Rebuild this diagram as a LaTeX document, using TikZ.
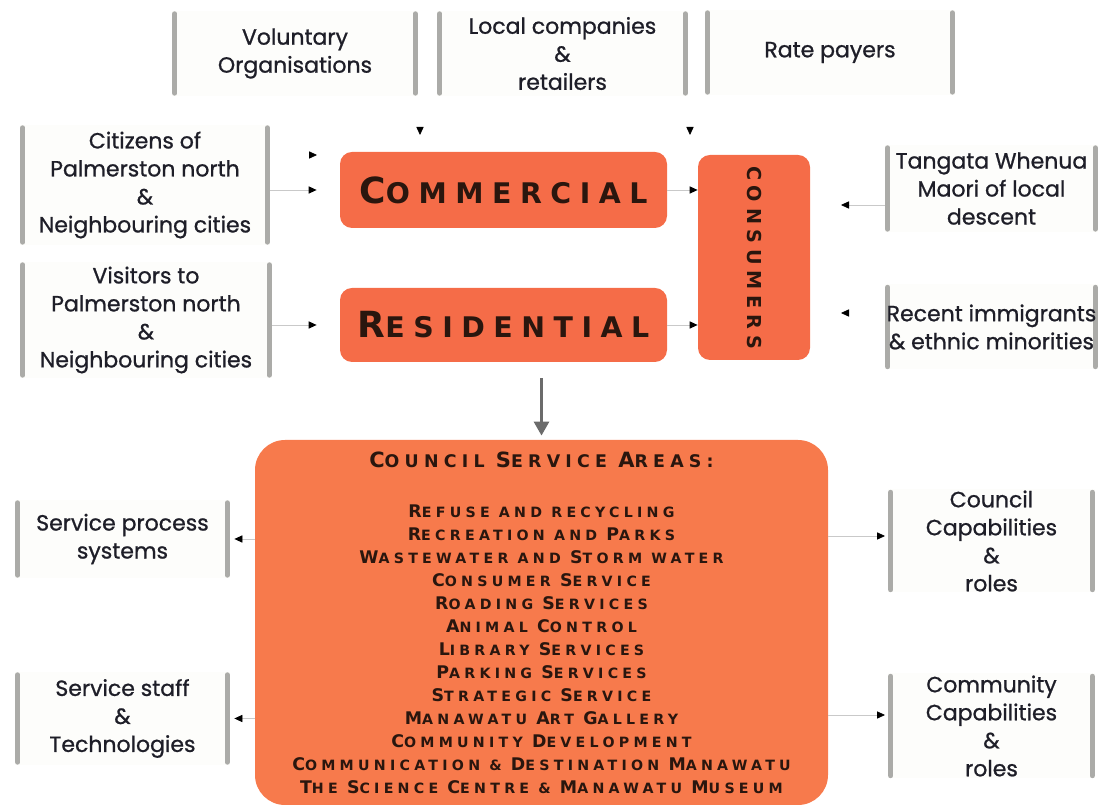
\documentclass[tikz,border=0pt]{standalone}
\usepackage{fontspec}
\setmainfont{Poppins}[FakeBold=0.9,AutoFakeBold=0.9]
\newfontfamily\capsfont[LetterSpace=30]{DejaVu Sans Bold}
\usetikzlibrary{arrows.meta}

\definecolor{ink}{HTML}{1E1E28}
\definecolor{capink}{HTML}{2A160E}
\definecolor{tangerine}{RGB}{245,108,72}
\definecolor{councilfill}{RGB}{247,122,76}
\definecolor{barcol}{HTML}{ABABA8}
\definecolor{linkcol}{HTML}{C9C9C9}
\definecolor{paper}{HTML}{FDFDFB}

% larger initial letters for the faked small capitals
\def\bigsz{8}
\newcommand\Bg[1]{{\fontsize{\bigsz}{\bigsz}\selectfont#1}}

\begin{document}
\begin{tikzpicture}[x=0.5pt,y=-0.5pt,
  barline/.style={draw=barcol,line width=2.5pt,line cap=round},
  tag/.style={align=center,text=ink,inner sep=0pt,fill=paper,
    font=\fontsize{11}{14}\selectfont,
    path picture={
      \draw[barline] ([xshift=1.4pt,yshift=-1.4pt]path picture bounding box.north west)
        -- ([xshift=1.4pt,yshift=1.4pt]path picture bounding box.south west);
      \draw[barline] ([xshift=-1.4pt,yshift=-1.4pt]path picture bounding box.north east)
        -- ([xshift=-1.4pt,yshift=1.4pt]path picture bounding box.south east);
    }},
  block/.style={fill=tangerine,draw=none,rounded corners=6pt,inner sep=0pt,
    text=capink,align=center},
  link/.style={draw=linkcol,line width=0.4pt,
    -{Triangle[length=4pt,width=3.6pt,color=black]}},
  ghost/.style={link,draw=white},
  bigarrow/.style={draw=black!58,line width=1.5pt,
    -{Triangle[length=7pt,width=7.5pt]}}
]
\useasboundingbox (0,0) rectangle (1100,806);

% ---- outer stakeholder groups ----
\node[tag,minimum width=123pt,minimum height=42.5pt] (vol) at (295,53.5)
  {Voluntary\\Organisations};
\node[tag,minimum width=125.5pt,minimum height=42.5pt] (loc) at (562.5,53.5)
  {Local companies\\\&\\retailers};
\node[tag,minimum width=125pt,minimum height=42.5pt] (rate) at (830,52.5)
  {Rate payers};
\node[tag,minimum width=125pt,minimum height=60pt] (cit) at (145,185)
  {Citizens of\\Palmerston north\\\&\\Neighbouring cities};
\node[tag,minimum width=126pt,minimum height=58pt] (vis) at (146,320)
  {Visitors to\\Palmerston north\\\&\\Neighbouring cities};
\node[tag,minimum width=106.5pt,minimum height=43.5pt] (tan) at (991.5,188.5)
  {Tangata Whenua\\Maori of local\\descent};
\node[tag,minimum width=106.5pt,minimum height=42.5pt] (rec) at (991.5,327)
  {Recent immigrants\\\& ethnic minorities};
\node[tag,minimum width=107.5pt,minimum height=39pt] (spr) at (122.5,539)
  {Service process\\systems};
\node[tag,minimum width=107.5pt,minimum height=46.5pt] (sst) at (122.5,718.5)
  {Service staff\\\&\\Technologies};
\node[tag,minimum width=103.5pt,minimum height=51.5pt] (ccap) at (991.5,541)
  {Council\\Capabilities\\\&\\roles};
\node[tag,minimum width=103.5pt,minimum height=52.5pt] (cmty) at (991.5,726)
  {Community\\Capabilities\\\&\\roles};

% ---- market segments ----
\node[block,minimum width=163.5pt,minimum height=38pt,
  font=\capsfont\fontsize{14.2}{15}\selectfont\def\bigsz{18}] (com) at (503.5,190)
  {\Bg{C}OMMERCIAL};
\node[block,minimum width=163.5pt,minimum height=37pt,
  font=\capsfont\fontsize{14.2}{15}\selectfont\def\bigsz{18}] (res) at (503.5,325)
  {\Bg{R}ESIDENTIAL};
\node[block,minimum width=56pt,minimum height=102.5pt,
  font=\capsfont\fontsize{9.6}{12}\selectfont] (cons) at (754,257.5)
  {\rotatebox{-90}{CONSUMERS}};

% ---- council services ----
\node[block,fill=councilfill,rounded corners=15pt,minimum width=286.5pt,
  minimum height=182.5pt,font=\capsfont\fontsize{7.1}{11.5}\selectfont\def\bigsz{8.7}]
  (cou) at (541.5,622.5)
  {{\fontsize{8.7}{11.5}\selectfont\def\bigsz{10.5}\Bg{C}OUNCIL \Bg{S}ERVICE \Bg{A}REAS:}\\[13.5pt]
   \Bg{R}EFUSE AND RECYCLING\\
   \Bg{R}ECREATION AND \Bg{P}ARKS\\
   \Bg{W}ASTEWATER AND \Bg{S}TORM WATER\\
   \Bg{C}ONSUMER \Bg{S}ERVICE\\
   \Bg{R}OADING \Bg{S}ERVICES\\
   \Bg{A}NIMAL \Bg{C}ONTROL\\
   \Bg{L}IBRARY \Bg{S}ERVICES\\
   \Bg{P}ARKING \Bg{S}ERVICES\\
   \Bg{S}TRATEGIC \Bg{S}ERVICE\\
   \Bg{M}ANAWATU \Bg{A}RT \Bg{G}ALLERY\\
   \Bg{C}OMMUNITY \Bg{D}EVELOPMENT\\
   \Bg{C}OMMUNICATION \& \Bg{D}ESTINATION \Bg{M}ANAWATU\\
   \Bg{T}HE \Bg{S}CIENCE \Bg{C}ENTRE \& \Bg{M}ANAWATU \Bg{M}USEUM};

% ---- arrow end points ----
\coordinate (citTop) at (317,155);
\coordinate (volTip) at (420,135);
\coordinate (locTip) at (690,135);
\coordinate (tanTip) at (841,205);
\coordinate (recTip) at (841,313);
\coordinate (ccapIn) at (885,536);
\coordinate (cmtyIn) at (885,715);

% ---- connectors ----
\draw[ghost] (cit.east |- citTop) -- (citTop);
\draw[link,shorten >=11.5pt] (cit.east |- com.west) -- (com.west);
\draw[link,shorten >=11.5pt] (vis.east |- res.west) -- (res.west);
\draw[ghost] (vol.south -| volTip) -- (volTip);
\draw[ghost] (loc.south -| locTip) -- (locTip);
\draw[link] (com.east) -- (cons.west |- com.east);
\draw[link] (res.east) -- (cons.west |- res.east);
\draw[link] (tan.west |- tanTip) -- (tanTip);
\draw[ghost] (rec.west |- recTip) -- (recTip);
\draw[bigarrow,shorten <=8pt,shorten >=2pt] (cou.north |- res.south) -- (cou.north);
\draw[link,shorten >=2pt] (cou.west |- spr.east) -- (spr.east);
\draw[link,shorten >=2pt] (cou.west |- sst.east) -- (sst.east);
\draw[link] (cou.east |- ccapIn) -- (ccapIn);
\draw[link] (cou.east |- cmtyIn) -- (cmtyIn);
\end{tikzpicture}
\end{document}
